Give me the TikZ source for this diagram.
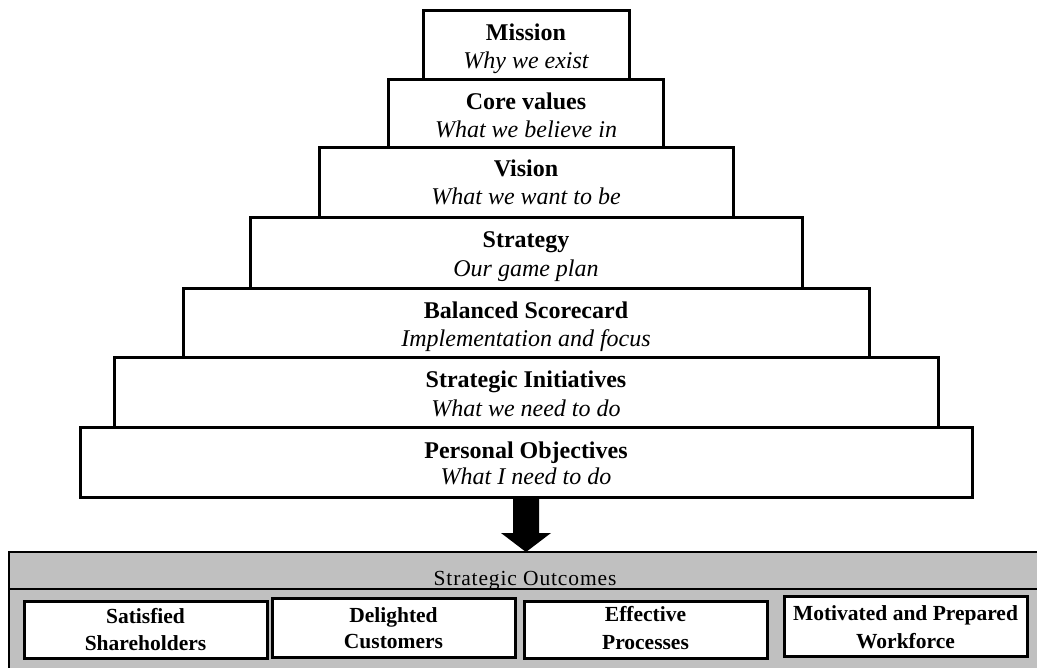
\documentclass[tikz,border=0pt]{standalone}
\usepackage{fontspec}
\setmainfont{Liberation Serif}
\newfontfamily\headfont[LetterSpace=4]{Liberation Serif}
\usetikzlibrary{calc}
\definecolor{panelgray}{RGB}{192,192,192}
\begin{document}
\begin{tikzpicture}[x=1pt,y=-1pt,
  tier/.style={draw=black, line width=3pt, fill=white, inner sep=0pt, outer sep=0pt},
  tiertitle/.style={anchor=base, inner sep=0pt, font=\fontsize{24}{28}\selectfont\bfseries},
  tiersub/.style={anchor=base, inner sep=0pt, font=\fontsize{24}{28}\selectfont\itshape},
  panel/.style={draw=black, line width=2.5pt, fill=panelgray, inner sep=0pt, outer sep=0pt,
    minimum width=1036pt, anchor=north west},
  outcome/.style={draw=black, line width=3pt, fill=white, inner sep=0pt, outer sep=0pt,
    minimum width=243pt},
  outtext/.style={anchor=base, inner sep=0pt, font=\fontsize{21.5}{25}\selectfont\bfseries},
  headtext/.style={anchor=base, inner sep=0pt, font=\headfont\fontsize{21.5}{25}\selectfont},
]
\useasboundingbox (0,0) rectangle (1037,668);

% pyramid tiers, widest at the bottom
\node[tier, minimum width=892pt, minimum height=69pt] (po)       at (526,462.5) {};
\node[tier, minimum width=824pt, minimum height=70pt] (si)       at (526,393)   {};
\node[tier, minimum width=686pt, minimum height=69pt] (bsc)      at (526,323.5) {};
\node[tier, minimum width=552pt, minimum height=71pt] (strategy) at (526,253.5) {};
\node[tier, minimum width=414pt, minimum height=70pt] (vision)   at (526,183)   {};
\node[tier, minimum width=275pt, minimum height=68pt] (core)     at (526,114)   {};
\node[tier, minimum width=206pt, minimum height=69pt] (mission)  at (526,45.5)  {};

% tier captions: bold name, italic meaning
\path (mission.north)  ++(0,30) node[tiertitle] (missionT)  {Mission}
                       ++(0,28) node[tiersub]   (missionS)  {Why we exist};
\path (core.north)     ++(0,30) node[tiertitle] (coreT)     {Core values}
                       ++(0,28) node[tiersub]   (coreS)     {What we believe in};
\path (vision.north)   ++(0,29) node[tiertitle] (visionT)   {Vision}
                       ++(0,28) node[tiersub]   (visionS)   {What we want to be};
\path (strategy.north) ++(0,30) node[tiertitle] (strategyT) {Strategy}
                       ++(0,29) node[tiersub]   (strategyS) {Our game plan};
\path (bsc.north)      ++(0,30) node[tiertitle] (bscT)      {Balanced Scorecard}
                       ++(0,28) node[tiersub]   (bscS)      {Implementation and focus};
\path (si.north)       ++(0,30) node[tiertitle] (siT)       {Strategic Initiatives}
                       ++(0,29) node[tiersub]   (siS)       {What we need to do};
\path (po.north)       ++(0,30) node[tiertitle] (poT)       {Personal Objectives}
                       ++(0,27) node[tiersub]   (poS)       {What I need to do};

% outcomes panel: grey header strip and grey body
\node[panel, minimum height=37pt] (hdr)  at (9,552)          {};
\node[panel, minimum height=95pt] (body) at (hdr.south west) {};
\path (hdr.north) ++(-2,33) node[headtext] (hdrT) {Strategic Outcomes};

% the four outcome boxes
\node[outcome, minimum height=57pt] (s1) at (145.5,629.5) {};
\node[outcome, minimum height=59pt] (s2) at (393.5,627.5) {};
\node[outcome, minimum height=57pt] (s3) at (645.5,629.5) {};
\node[outcome, minimum height=60pt] (s4) at (905.5,626)   {};

\path (s1.north) ++(0,22) node[outtext] (s1a) {Satisfied}
                 ++(0,27) node[outtext] (s1b) {Shareholders};
\path (s2.north) ++(0,24) node[outtext] (s2a) {Delighted}
                 ++(0,26) node[outtext] (s2b) {Customers};
\path (s3.north) ++(0,20) node[outtext] (s3a) {Effective}
                 ++(0,28) node[outtext] (s3b) {Processes};
\path (s4.north) ++(0,24) node[outtext] (s4a) {Motivated and Prepared}
                 ++(0,28) node[outtext] (s4b) {Workforce};

% block arrow from the pyramid base down to the outcomes
\coordinate (tip) at (po.south |- hdr.north);
\fill[black] (po.south) ++(-13,0) -- ++(0,36) -- ++(-12,0) -- (tip)
  -- ++(25,-19) -- ++(-12,0) -- ++(0,-36) -- cycle;
\end{tikzpicture}
\end{document}
